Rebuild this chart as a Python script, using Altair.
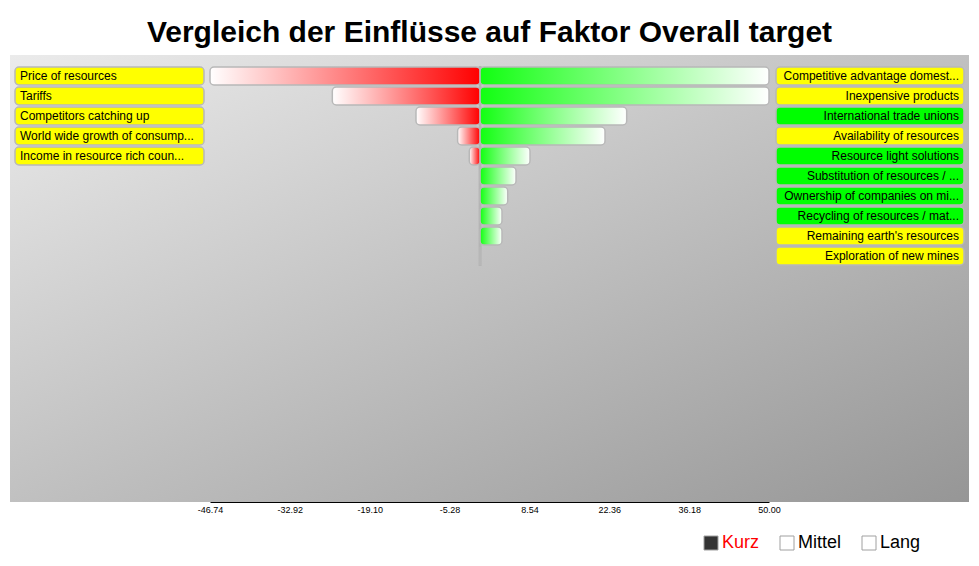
import altair as alt
import pandas as pd

# ---------------- data ----------------
left_labels = [
    "Price of resources",
    "Tariffs",
    "Competitors catching up",
    "World wide growth of consump...",
    "Income in resource rich coun...",
]
left_values = [-46.74, -25.57, -11.09, -3.89, -1.87]

right_labels = [
    "Competitive advantage domest...",
    "Inexpensive products",
    "International trade unions",
    "Availability of resources",
    "Resource light solutions",
    "Substitution of resources / ...",
    "Ownership of companies on mi...",
    "Recycling of resources / mat...",
    "Remaining earth's resources",
    "Exploration of new mines",
]
right_values = [50.0, 50.0, 25.37, 21.62, 8.64, 6.22, 4.78, 3.79, 3.79, 0.0]
right_kinds = ["yellow", "yellow", "green", "yellow", "green",
               "green", "green", "green", "yellow", "yellow"]

tick_values = [-46.74, -32.92, -19.10, -5.28, 8.54, 22.36, 36.18, 50.00]
series = ["Kurz", "Mittel", "Lang"]
series_colors = ["#333333", "#ffffff", "#ffffff"]

title_text = "Vergleich der Einflüsse auf Faktor Overall target"

rows = list(range(1, 11))
left_df = pd.DataFrame({"row": list(range(1, len(left_labels) + 1)),
                        "label": left_labels, "value": left_values})
left_df["zero"] = 0.0
right_df = pd.DataFrame({"row": list(range(1, len(right_labels) + 1)),
                         "label": right_labels, "value": right_values,
                         "kind": right_kinds})
right_df["zero"] = 0.0
legend_df = pd.DataFrame({"series": series})
zero_df = pd.DataFrame({"zero": [0.0]})

FONT = "Liberation Sans"
W, H = 959, 447

xscale = alt.Scale(domain=[-46.74, 50.0], range=[200, 759], nice=False, zero=False)
xaxis = alt.Axis(values=tick_values, title=None,
                 labelExpr="replace(format(datum.value, '.2f'), '\u2212', '-')",
                 ticks=False, grid=False, domainColor="#000000",
                 domainWidth=1, labelFontSize=9, labelColor="#000000",
                 labelFont=FONT, labelPadding=3, labelFlush=False,
                 labelOverlap=False)
yscale = alt.Scale(domain=rows, range=[11, 211], paddingInner=0.1, paddingOuter=0.05)
ycode = alt.Y("row:O", scale=yscale, axis=None)

# background gradient
bg = alt.Chart(zero_df).mark_rect(
    fill=alt.LinearGradient(
        gradient="linear",
        stops=[alt.GradientStop(color="#ebebeb", offset=0),
               alt.GradientStop(color="#969696", offset=1)],
        x1=0, y1=0, x2=1, y2=1),
).encode(x=alt.value(0), x2=alt.value(W), y=alt.value(0), y2=alt.value(H))

center_rule = alt.Chart(zero_df).mark_rule(
    color="#b4b4b4", strokeWidth=3
).encode(x=alt.X("zero:Q", scale=xscale, axis=xaxis),
         y=alt.value(11), y2=alt.value(211))

red_bars = alt.Chart(left_df).mark_bar(
    fill=alt.LinearGradient(
        gradient="linear",
        stops=[alt.GradientStop(color="#ffffff", offset=0),
               alt.GradientStop(color="#ff0000", offset=1)],
        x1=0, y1=0, x2=1, y2=0),
    stroke="#b8b8b8", strokeWidth=1.5, cornerRadiusEnd=4,
).encode(
    x=alt.X("value:Q", scale=xscale, axis=xaxis),
    x2="zero:Q",
    y=ycode,
)

green_bars = alt.Chart(right_df).mark_bar(
    fill=alt.LinearGradient(
        gradient="linear",
        stops=[alt.GradientStop(color="#11ff11", offset=0),
               alt.GradientStop(color="#ffffff", offset=1)],
        x1=0, y1=0, x2=1, y2=0),
    stroke="#b8b8b8", strokeWidth=1.5, cornerRadiusEnd=4,
).encode(
    x=alt.X("value:Q", scale=xscale, axis=xaxis),
    x2="zero:Q",
    y=ycode,
)

left_boxes = alt.Chart(left_df).mark_bar(
    fill="#ffff00", stroke="#b8b8b8", strokeWidth=1.5, cornerRadius=4,
).encode(x=alt.value(5), x2=alt.value(194), y=ycode)

left_text = alt.Chart(left_df).mark_text(
    align="left", baseline="middle", font=FONT, fontSize=12, color="#000000",
).encode(x=alt.value(10), y=ycode, text="label:N")

right_boxes = alt.Chart(right_df).mark_bar(
    stroke="#b8b8b8", strokeWidth=1.5, cornerRadius=4,
).encode(
    x=alt.value(766), x2=alt.value(954), y=ycode,
    fill=alt.Fill("kind:N", scale=alt.Scale(domain=["yellow", "green"],
                                            range=["#ffff00", "#00ff00"]),
                  legend=None),
)

right_text = alt.Chart(right_df).mark_text(
    align="right", baseline="middle", font=FONT, fontSize=12, color="#000000",
).encode(x=alt.value(949), y=ycode, text="label:N")

legend_layer = alt.Chart(legend_df).mark_square(opacity=0, filled=True).encode(
    x=alt.value(0), y=alt.value(0),
    color=alt.Color(
        "series:N",
        scale=alt.Scale(domain=series, range=series_colors),
        legend=alt.Legend(
            title=None, orient="none", direction="horizontal",
            legendX=692, legendY=479, symbolType="square", symbolSize=196,
            symbolOpacity=1, symbolStrokeColor="#a0a0a0", symbolStrokeWidth=1,
            labelFont=FONT, labelFontSize=18, labelOffset=2, columnPadding=18,
            padding=0,
            labelColor=alt.ExprRef(
                expr="datum.label === 'Kurz' ? '#ff0000' : '#000000'"),
        ),
    ),
)

chart = alt.layer(
    bg, center_rule, red_bars, green_bars, left_boxes, left_text,
    right_boxes, right_text, legend_layer,
).properties(
    width=W, height=H,
    title=alt.TitleParams(title_text, font=FONT, fontSize=30, fontWeight="bold",
                          anchor="middle", color="#000000", offset=4),
    autosize=alt.AutoSizeParams(type="none"),
    padding={"left": 10, "top": 55, "right": 10, "bottom": 64},
    background="#ffffff",
).configure_view(stroke=None)

chart.save("out.html", embed_options={"renderer": "svg", "actions": False})
